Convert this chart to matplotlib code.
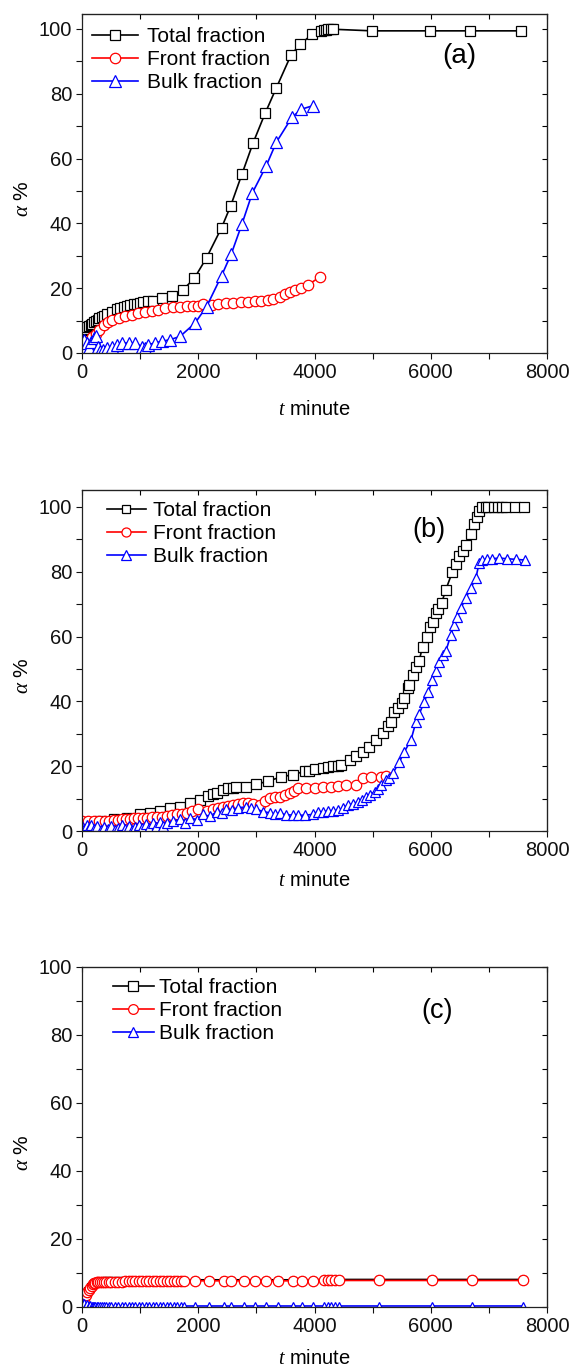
import matplotlib
matplotlib.use('Agg')
import matplotlib.pyplot as plt
from matplotlib.ticker import MultipleLocator

plt.rcParams['font.family'] = ['Liberation Sans', 'DejaVu Sans']
plt.rcParams['mathtext.fontset'] = 'custom'
plt.rcParams['mathtext.it'] = 'Liberation Serif:italic'
plt.rcParams['mathtext.rm'] = 'Liberation Sans'

# ---- panel (a) ----
ta_total = [0, 30, 60, 90, 120, 150, 180, 210, 240, 270, 300, 340, 380, 430, 514, 600, 660,
            714, 770, 829, 890, 943, 1000, 1057, 1140, 1229, 1371, 1543, 1731, 1931, 2143,
            2400, 2560, 2754, 2943, 3149, 3343, 3600, 3754, 3954, 4114, 4160, 4200, 4240,
            4280, 4316, 4992, 5986, 6672, 7558]
ya_total = [6.5, 7.0, 7.5, 7.9, 8.3, 8.7, 9.1, 9.5, 9.9, 10.3, 10.7, 11.1, 11.5, 12.0, 12.8,
            13.6, 13.9, 14.3, 14.5, 14.8, 15.0, 15.1, 15.4, 15.7, 15.9, 16.1, 16.9, 17.7,
            19.4, 23.0, 29.4, 38.6, 45.5, 55.3, 64.8, 73.9, 81.8, 92.1, 95.2, 98.3, 99.3,
            99.6, 99.8, 99.9, 99.9, 99.9, 99.4, 99.4, 99.4, 99.4]
ta_front = [0, 60, 120, 180, 240, 300, 371, 450, 514, 629, 743, 857, 971, 1086, 1200, 1314,
            1429, 1571, 1686, 1800, 1914, 2000, 2086, 2229, 2343, 2486, 2600, 2743, 2857,
            2971, 3086, 3200, 3286, 3400, 3486, 3571, 3657, 3771, 3886, 4097]
ya_front = [1.0, 2.2, 3.4, 4.8, 6.0, 7.2, 8.6, 9.6, 10.2, 10.7, 11.3, 11.8, 12.3, 12.8, 13.0,
            13.3, 13.8, 14.3, 14.3, 14.6, 14.6, 14.6, 15.2, 14.8, 15.0, 15.4, 15.4, 15.7,
            15.7, 15.9, 16.1, 16.4, 16.7, 17.4, 18.1, 18.7, 19.4, 20.0, 21.0, 23.5]
ta_bulk = [0, 40, 80, 120, 160, 200, 240, 280, 314, 360, 429, 514, 600, 686, 800, 914, 1029,
           1086, 1143, 1257, 1371, 1514, 1686, 1943, 2143, 2400, 2571, 2754, 2931, 3171,
           3343, 3611, 3771, 3971]
ya_bulk = [2.0, 4.0, 3.0, 1.5, 3.5, 4.5, 5.2, 2.0, 0.5, 1.0, 1.5, 2.0, 2.6, 3.1, 3.1, 3.1,
           2.0, 1.5, 2.6, 3.1, 3.6, 4.1, 5.1, 9.2, 14.3, 23.8, 30.7, 39.9, 49.4, 57.8, 65.0,
           72.7, 75.2, 76.3]

# ---- panel (b) ----
tb_total = [0, 150, 314, 543, 771, 1000, 1171, 1343, 1514, 1686, 1857, 2029, 2171, 2250,
            2314, 2429, 2514, 2600, 2657, 2829, 3000, 3200, 3431, 3630, 3831, 3900, 4003,
            4145, 4230, 4317, 4400, 4460, 4603, 4717, 4831, 4946, 5060, 5175, 5257, 5318,
            5374, 5432, 5500, 5546, 5600, 5631, 5700, 5746, 5800, 5860, 5930, 5989, 6031,
            6088, 6130, 6186, 6260, 6374, 6430, 6489, 6560, 6604, 6690, 6746, 6790, 6832,
            6890, 6947, 6986, 7090, 7157, 7233, 7300, 7444, 7603]
yb_total = [2.6, 2.8, 3.1, 3.6, 4.1, 5.1, 5.6, 6.2, 7.2, 7.4, 8.7, 9.7, 10.8, 11.3, 11.8,
            12.8, 13.3, 13.4, 13.5, 13.5, 14.4, 15.4, 16.7, 17.4, 18.4, 18.6, 19.1, 19.4,
            19.6, 19.9, 20.1, 20.4, 21.9, 23.0, 24.5, 26.0, 28.1, 30.2, 32.3, 33.7, 36.8,
            38.0, 39.5, 41.0, 44.0, 45.1, 48.0, 50.7, 52.5, 56.9, 60.0, 63.0, 64.5, 67.2,
            68.5, 70.3, 74.5, 80.0, 82.3, 84.7, 86.5, 88.3, 91.5, 94.6, 96.8, 98.7, 100, 100,
            100, 100, 100, 100, 100, 100, 100]
tb_front = [0, 100, 200, 300, 400, 470, 543, 614, 686, 757, 829, 900, 971, 1043, 1114, 1200,
            1286, 1371, 1457, 1543, 1629, 1714, 1800, 1900, 2000, 2143, 2257, 2343, 2429,
            2514, 2600, 2686, 2771, 2857, 2943, 3057, 3143, 3229, 3314, 3400, 3486, 3573,
            3643, 3716, 3860, 4003, 4145, 4288, 4402, 4546, 4717, 4831, 4974, 5146, 5231]
yb_front = [3.1, 3.1, 3.1, 3.1, 3.1, 3.2, 3.3, 3.4, 3.6, 3.7, 3.8, 3.9, 3.9, 4.0, 4.1, 4.2,
            4.3, 4.4, 4.6, 4.8, 5.1, 5.3, 5.6, 6.2, 6.7, 6.2, 6.9, 7.2, 7.4, 7.7, 8.0, 8.4,
            8.7, 8.7, 8.4, 7.9, 9.3, 10.3, 10.5, 10.6, 11.0, 11.6, 12.4, 13.2, 13.2, 13.2,
            13.7, 13.7, 13.8, 14.2, 14.2, 16.3, 16.8, 16.8, 16.9]
tb_bulk = [0, 40, 80, 120, 160, 200, 260, 320, 380, 440, 500, 560, 620, 680, 740, 800, 860,
           920, 980, 1040, 1100, 1160, 1220, 1280, 1340, 1400, 1457, 1571, 1686, 1771, 1857,
           1971, 2086, 2200, 2314, 2400, 2486, 2586, 2686, 2829, 2914, 3000, 3114, 3229,
           3314, 3400, 3514, 3630, 3714, 3830, 3971, 4060, 4143, 4230, 4314, 4402, 4490,
           4575, 4660, 4746, 4820, 4890, 4960, 5033, 5090, 5147, 5233, 5290, 5347, 5462,
           5548, 5660, 5746, 5800, 5889, 5960, 6030, 6089, 6150, 6203, 6260, 6346, 6403,
           6460, 6518, 6604, 6690, 6775, 6832, 6888, 6974, 7060, 7175, 7318, 7461, 7621]
yb_bulk = [1.5, 0.5, 2.0, 0.8, 1.8, 0.5, 1.5, 0.3, 1.2, 0.5, 1.5, 0.3, 1.0, 1.8, 0.5, 1.5,
           0.3, 1.2, 2.0, 0.8, 2.2, 1.0, 2.5, 1.2, 2.8, 1.5, 2.6, 3.0, 3.6, 2.5, 4.1, 3.5,
           5.1, 4.5, 5.9, 5.5, 6.7, 6.5, 7.2, 7.4, 7.0, 6.7, 6.0, 5.6, 5.3, 5.5, 5.0, 4.9,
           4.8, 4.9, 5.1, 6.0, 5.9, 6.2, 6.3, 6.4, 7.0, 8.0, 8.4, 9.0, 9.6, 10.6, 11.2, 12.1,
           13.0, 14.2, 15.8, 16.5, 17.8, 21.4, 24.5, 28.1, 33.7, 36.0, 39.9, 43.0, 46.6,
           49.5, 52.0, 54.3, 55.5, 60.5, 63.6, 66.0, 68.7, 71.9, 74.9, 78.0, 82.6, 83.6,
           83.8, 84.0, 84.2, 84.0, 83.8, 83.6]

# ---- panel (c) ----
tc = [0, 20, 40, 63, 90, 113, 140, 164, 190, 208, 230, 252, 280, 310, 340, 380, 420, 460,
      500, 560, 620, 680, 740, 800, 860, 920, 980, 1040, 1100, 1160, 1220, 1280, 1340, 1400,
      1460, 1520, 1580, 1640, 1700, 1760, 1937, 2189, 2440, 2566, 2786, 2975, 3164, 3365,
      3635, 3792, 3981, 4170, 4230, 4290, 4350, 4421, 5113, 6013, 6704, 7585]
yc_front = [0.5, 1.5, 2.5, 3.5, 4.3, 5.0, 5.7, 6.2, 6.8, 7.0, 7.2, 7.3, 7.4, 7.4, 7.4, 7.5,
            7.5, 7.5, 7.5, 7.5, 7.5, 7.5, 7.6, 7.6, 7.6, 7.6, 7.6, 7.6, 7.6, 7.6, 7.6, 7.6,
            7.6, 7.6, 7.6, 7.6, 7.6, 7.6, 7.6, 7.6, 7.7, 7.7, 7.7, 7.7, 7.7, 7.7, 7.7, 7.7,
            7.7, 7.7, 7.7, 7.8, 7.8, 7.8, 7.8, 7.8, 7.8, 7.8, 7.8, 7.8]
yc_bulk = [1.5, 0.5, 1.2, 0.3, 0.8, 0.3, 0.5, 0.3, 0.3, 0.3, 0.3, 0.3, 0.3, 0.3, 0.3, 0.3,
           0.3, 0.3, 0.3, 0.3, 0.3, 0.3, 0.3, 0.3, 0.3, 0.3, 0.3, 0.3, 0.3, 0.3, 0.3, 0.3,
           0.3, 0.3, 0.3, 0.3, 0.3, 0.3, 0.3, 0.3, 0.3, 0.3, 0.3, 0.3, 0.3, 0.3, 0.3, 0.3,
           0.3, 0.3, 0.3, 0.3, 0.3, 0.3, 0.3, 0.3, 0.3, 0.3, 0.3, 0.3]
yc_total = [2.0, 2.0, 3.7, 3.8, 5.1, 5.3, 6.2, 6.5, 7.1, 7.3, 7.5, 7.6, 7.7, 7.7, 7.7, 7.8,
            7.8, 7.8, 7.8, 7.8, 7.8, 7.8, 7.9, 7.9, 7.9, 7.9, 7.9, 7.9, 7.9, 7.9, 7.9, 7.9,
            7.9, 7.9, 7.9, 7.9, 7.9, 7.9, 7.9, 7.9, 8.0, 8.0, 8.0, 8.0, 8.0, 8.0, 8.0, 8.0,
            8.0, 8.0, 8.0, 8.1, 8.1, 8.1, 8.1, 8.1, 8.1, 8.1, 8.1, 8.1]

labels = ['Total fraction', 'Front fraction', 'Bulk fraction']
BLACK, RED, BLUE = '#000000', '#ff0000', '#0000ff'

fig = plt.figure(figsize=(5.74, 13.69), dpi=100)
H = 1369.0
W = 574.0


def make_axes(top_px, bot_px):
    return fig.add_axes([82 / W, 1 - bot_px / H, 465 / W, (bot_px - top_px) / H])


def style(ax, ymax, xlab_y):
    ax.set_xlim(0, 8000)
    ax.set_ylim(0, ymax)
    ax.xaxis.set_major_locator(MultipleLocator(2000))
    ax.xaxis.set_minor_locator(MultipleLocator(1000))
    ax.yaxis.set_major_locator(MultipleLocator(20))
    ax.yaxis.set_minor_locator(MultipleLocator(10))
    ax.tick_params(which='both', direction='out', length=4, width=0.8,
                   labelsize=14.5, colors='#111111', pad=3)
    for s in ax.spines.values():
        s.set_linewidth(0.9)
        s.set_color('#222222')
    sx = ax.secondary_xaxis('top')
    sx.xaxis.set_major_locator(MultipleLocator(2000))
    sx.xaxis.set_minor_locator(MultipleLocator(1000))
    sx.tick_params(which='both', direction='in', length=3.5, width=0.8, labeltop=False)
    sy = ax.secondary_yaxis('right')
    sy.yaxis.set_major_locator(MultipleLocator(20))
    sy.yaxis.set_minor_locator(MultipleLocator(10))
    sy.tick_params(which='both', direction='in', length=3.5, width=0.8, labelright=False)
    ax.set_xlabel(r'$t$ minute', fontsize=14.5)
    ax.xaxis.set_label_coords(0.5, xlab_y)
    ax.xaxis.label.set_va('center')
    ax.set_ylabel(r'$\alpha$ %', fontsize=15)
    ax.yaxis.set_label_coords(-0.127, 0.455)
    ax.yaxis.label.set_va('center')


def legend(ax, x, y, hl, pad, sizes):
    leg = ax.legend(loc='upper left', bbox_to_anchor=(x, y), frameon=False, fontsize=15,
                    handlelength=hl, handletextpad=pad, labelspacing=0.2,
                    borderpad=0, borderaxespad=0)
    for h, s in zip(leg.legend_handles, sizes):
        h.set_markersize(s)
    return leg


# (a)
ax = make_axes(14, 353)
ax.plot(ta_total, ya_total, '-s', color=BLACK, lw=1.2, ms=7, mfc='white', mec=BLACK,
        mew=0.9, label=labels[0])
ax.plot(ta_front, ya_front, '-o', color=RED, lw=1.2, ms=7.5, mfc='white', mec=RED,
        mew=0.9, label=labels[1])
ax.plot(ta_bulk, ya_bulk, '-^', color=BLUE, lw=1.2, ms=8, mfc='white', mec=BLUE,
        mew=0.9, label=labels[2])
style(ax, 104.6, -0.168)
legend(ax, 0.022, 0.962, 2.2, 0.43, [7, 7.5, 8])
fig.text(459 / W, 1 - 56 / H, '(a)', fontsize=20, ha='center', va='center')

# (b)
ax = make_axes(490, 831)
ax.plot(tb_total, yb_total, '-s', color=BLACK, lw=1.2, ms=6.5, mfc='white', mec=BLACK,
        mew=0.9, label=labels[0])
ax.plot(tb_front, yb_front, '-o', color=RED, lw=1.2, ms=7.5, mfc='white', mec=RED,
        mew=0.9, label=labels[1])
ax.plot(tb_bulk, yb_bulk, '-^', color=BLUE, lw=1.2, ms=7.5, mfc='white', mec=BLUE,
        mew=0.9, label=labels[2])
style(ax, 105.2, -0.144)
legend(ax, 0.054, 0.968, 1.85, 0.34, [6, 6.5, 7])
fig.text(429 / W, 1 - 530 / H, '(b)', fontsize=19.5, ha='center', va='center')

# (c)
ax = make_axes(967, 1307)
ax.plot(tc, yc_total, '-s', color=BLACK, lw=1.2, ms=5, mfc='white', mec=BLACK,
        mew=0.9, label=labels[0])
ax.plot(tc, yc_front, '-o', color=RED, lw=1.2, ms=7.5, mfc='white', mec=RED,
        mew=0.9, label=labels[1])
ax.plot(tc, yc_bulk, '-^', color=BLUE, lw=1.2, ms=6, mfc='white', mec=BLUE,
        mew=0.9, label=labels[2])
style(ax, 100, -0.150)
legend(ax, 0.067, 0.968, 1.95, 0.25, [6.5, 7, 7.5])
fig.text(437 / W, 1 - 1011 / H, '(c)', fontsize=19.5, ha='center', va='center')

fig.savefig('out.png', dpi=100)
